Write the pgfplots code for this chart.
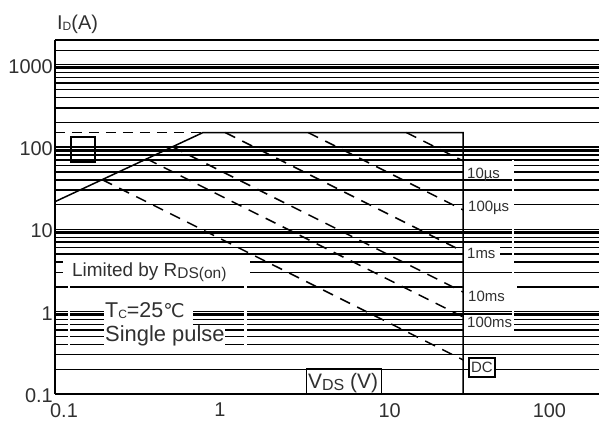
\documentclass[border=0pt]{standalone}
\usepackage{pgfplots}
\pgfplotsset{compat=1.18}
\usepackage{fontspec}
\setmainfont{Liberation Sans}
\newfontfamily\djv{DejaVu Sans}
\definecolor{txt}{HTML}{303030}

\newcommand{\fbig}{\fontsize{20}{24}\selectfont}
\newcommand{\fmid}{\fontsize{19}{22}\selectfont}
\newcommand{\fsml}{\fontsize{15}{18}\selectfont}
% subscript: size, drop, text
\newcommand{\sub}[3]{\raisebox{-#2}{\fontsize{#1}{#1}\selectfont #3}}

\begin{document}
\begin{tikzpicture}
\begin{axis}[
    at={(0,0)}, anchor=south west,
    width=544bp, height=354bp, scale only axis,
    xmode=log, ymode=log,
    xmin=0.1, xmax=200, ymin=0.1, ymax=2000,
    axis x line=bottom, axis y line=left,
    axis line style={-, black, line width=1.8bp},
    xtick={0.1,1,10,100},
    xticklabels={\hspace*{18bp}0.1, 1, \hspace*{10bp}10, 100},
    ytick={0.1,1,10,100,1000},
    yticklabels={0.1,1,10,100,1000},
    minor ytick={0.2,0.3,0.4,0.5,0.6,0.7,0.8,0.9,
                 2,3,4,5,6,7,8,9,
                 20,30,40,50,60,70,80,90,
                 200,300,400,500,600,700,800,900},
    minor xtick={},
    extra y ticks={0.94,9.4,94,940,1500,2000},
    extra y tick labels={},
    extra y tick style={grid=major},
    ymajorgrids, yminorgrids,
    major grid style={black, line width=1.4bp},
    minor grid style={black, line width=1.4bp},
    major tick length=0pt, minor tick length=0pt,
    ticklabel style={font=\fbig, text=txt},
    yticklabel style={inner xsep=2bp, yshift=-1.5bp},
    xticklabel style={inner sep=0pt, yshift=-9bp},
]

% limit lines
\addplot[black, line width=1.5bp, dash pattern=on 10bp off 7bp] coordinates {(0.1,150) (0.79,150)};
\addplot[black, line width=1.5bp] coordinates {(0.1,21.7) (0.79,150) (30,150) (30,0.1)};

% pulse lines (constant power, slope -1)
\addplot[black, line width=1.5bp, dash pattern=on 11bp off 8bp] coordinates {(13.56,150) (30,67.8)};
\addplot[black, line width=1.5bp, dash pattern=on 11bp off 8bp] coordinates {(3.44,150) (30,17.2)};
\addplot[black, line width=1.5bp, dash pattern=on 11bp off 8bp] coordinates {(1.08,150) (30,5.38)};
\addplot[black, line width=1.5bp, dash pattern=on 11bp off 8bp] coordinates {(0.516,100.8) (30,1.73)};
\addplot[black, line width=1.5bp, dash pattern=on 11bp off 8bp] coordinates {(0.360,71.9) (30,0.863)};
\addplot[black, line width=1.5bp, dash pattern=on 11bp off 8bp] coordinates {(0.1934,40.2) (30,0.259)};

\end{axis}

% annotations, in picture pixels
\begin{scope}[x=1bp, y=-1bp, shift={(-55bp,394bp)}]
  % white masks behind the labels
  \fill[white] (63,257) rectangle (250,284);
  \fill[white] (104,299) rectangle (193,326);
  \fill[white] (104,326) rectangle (225,348);
  \fill[white] (68.5,284) rectangle (70.5,347);
  \fill[white] (244.5,284) rectangle (247,347);
  \fill[white] (463.8,164) rectangle (512,178.8);
  \fill[white] (463.8,196) rectangle (512,214);
  \fill[white] (463.8,245) rectangle (500,264);
  \fill[white] (500,259) rectangle (513,264);
  \fill[white] (463.8,284) rectangle (517,309);
  \fill[white] (463.8,315) rectangle (513,333);
  \fill[white] (512.5,160) rectangle (514,335);

  \node[anchor=base west, inner sep=0, font=\fbig, text=txt] at (57,30) {I\sub{12bp}{0.5bp}{D}(A)};
  \node[anchor=base west, inner sep=0, font=\fmid, text=txt] at (72,277) {Limited by R\sub{15.5bp}{2bp}{DS(on)}};
  \node[anchor=base west, inner sep=0, font=\fontsize{21.5}{24}\selectfont, text=txt] at (105,318)
       {T\sub{12bp}{1bp}{C}=25{\djv\fontsize{19}{22}\selectfont ℃}};
  \node[anchor=base west, inner sep=0, font=\fontsize{22}{24}\selectfont, text=txt] at (105,342) {Single pulse};

  \node[anchor=base west, inner sep=0, font=\fsml, text=txt] at (467,179) {10µs};
  \node[anchor=base west, inner sep=0, font=\fsml, text=txt] at (468,212) {100µs};
  \node[anchor=base west, inner sep=0, font=\fsml, text=txt] at (467,259) {1ms};
  \node[anchor=base west, inner sep=0, font=\fsml, text=txt] at (468,302) {10ms};
  \node[anchor=base west, inner sep=0, font=\fsml, text=txt] at (467,328) {100ms};

  \draw[black, line width=1.4bp, fill=white] (469,358) rectangle (495,377);
  \node[font=\fsml, text=txt, inner sep=0] at (482,367.5) {DC};

  \draw[black, line width=1.4bp] (71,137) rectangle (95,162);

  \draw[black, line width=1.4bp, fill=white] (306.5,369) rectangle (381.5,394);
  \node[anchor=base west, inner sep=0, font=\fontsize{21}{24}\selectfont, text=txt] at (308,389)
       {V\sub{16bp}{1.5bp}{DS} (V)};
\end{scope}

\pgfresetboundingbox
\useasboundingbox (-55bp,-30bp) rectangle (544bp,394bp);
\end{tikzpicture}
\end{document}
